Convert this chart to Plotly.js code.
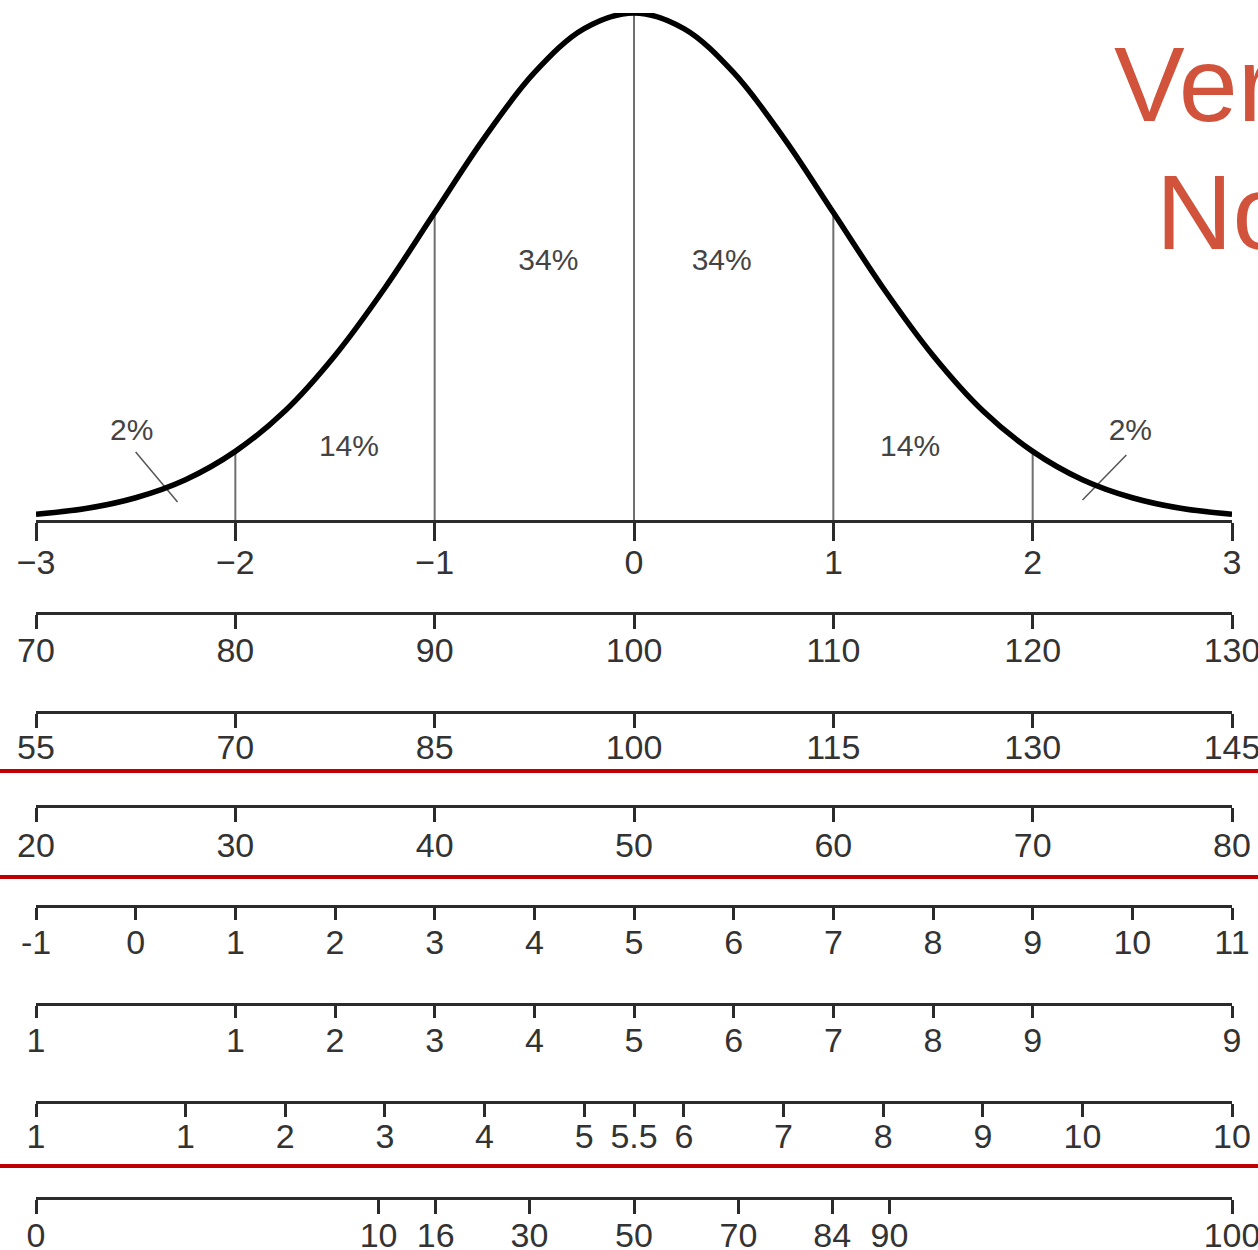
<!DOCTYPE html>
<html>
<head>
<meta charset="utf-8">
<script src="https://cdn.plot.ly/plotly-3.0.1.min.js"></script>
<style>html,body{margin:0;padding:0;background:#fff;}#chart{width:1258px;height:1250px;}</style>
</head>
<body>
<div id="chart"></div>
<script>
// ---- Data ----
const curveZ = [-3,-2.75,-2.5,-2.25,-2,-1.75,-1.5,-1.25,-1,-0.75,-0.5,-0.25,0,0.25,0.5,0.75,1,1.25,1.5,1.75,2,2.25,2.5,2.75,3];
const curveH = [0.0045,0.009,0.0175,0.0317,0.054,0.086,0.1295,0.1826,0.242,0.301,0.352,0.3867,0.399,0.3867,0.352,0.301,0.242,0.1826,0.1295,0.086,0.054,0.0317,0.0175,0.009,0.0045];
const dividerZ = [-2,-1,0,1,2];

const pctText = ["2%","14%","34%","34%","14%","2%"];
const pctZ = [-2.52,-1.43,-0.43,0.44,1.385,2.49];
const pctH = [0.0685,0.056,0.203,0.203,0.056,0.0685];
const leaderLeftZ = [-2.50,-2.29];
const leaderLeftH = [0.0535,0.0142];
const leaderRightZ = [2.47,2.25];
const leaderRightH = [0.0512,0.0157];

const zTicks = [-3,-2,-1,0,1,2,3];
const zLabels = ["\u22123","\u22122","\u22121","0","1","2","3"];
const iqTicks = [70,80,90,100,110,120,130];
const devTicks = [55,70,85,100,115,130,145];
const tTicks = [20,30,40,50,60,70,80];
const row5Ticks = [-1,0,1,2,3,4,5,6,7,8,9,10,11];
const stanineTicks = [-1,1,2,3,4,5,6,7,8,9,11];
const stanineLabels = ["1","1","2","3","4","5","6","7","8","9","9"];
const stenTicks = [-0.5,1,2,3,4,5,5.5,6,7,8,9,10,11.5];
const stenLabels = ["1","1","2","3","4","5","5.5","6","7","8","9","10","10"];
const pctRankTicks = [0,10,16,30,50,70,84,90,100];

// ---- helpers ----
function probit(p){ // inverse standard normal CDF (Acklam)
  if (p <= 0) return -3; if (p >= 1) return 3;
  const a=[-3.969683028665376e+01,2.209460984245205e+02,-2.759285104469687e+02,1.383577518672690e+02,-3.066479806614716e+01,2.506628277459239e+00];
  const b=[-5.447609879822406e+01,1.615858368580409e+02,-1.556989798598866e+02,6.680131188771972e+01,-1.328068155288572e+01];
  const c=[-7.784894002430293e-03,-3.223964580411365e-01,-2.400758277161838e+00,-2.549732539343734e+00,4.374664141464968e+00,2.938163982698783e+00];
  const d=[7.784695709041462e-03,3.224671290700398e-01,2.445134137142996e+00,3.754408661907416e+00];
  const pl=0.02425, ph=1-pl; let q,r;
  if (p<pl){q=Math.sqrt(-2*Math.log(p));return (((((c[0]*q+c[1])*q+c[2])*q+c[3])*q+c[4])*q+c[5])/((((d[0]*q+d[1])*q+d[2])*q+d[3])*q+1);}
  if (p<=ph){q=p-0.5;r=q*q;return (((((a[0]*r+a[1])*r+a[2])*r+a[3])*r+a[4])*r+a[5])*q/(((((b[0]*r+b[1])*r+b[2])*r+b[3])*r+b[4])*r+1);}
  q=Math.sqrt(-2*Math.log(1-p));return -(((((c[0]*q+c[1])*q+c[2])*q+c[3])*q+c[4])*q+c[5])/((((d[0]*q+d[1])*q+d[2])*q+d[3])*q+1);
}

const W = 1258, H = 1250;
const xDom = [36/W, 1232/W];
const py = px => 1 - px/H;
const FONT = "Liberation Sans, Arial, Helvetica, sans-serif";
const tickFont = {family: FONT, size: 34, color: "#333333"};

// divider line segments from the curve table
const divX = [], divY = [];
dividerZ.forEach(z => { const i = curveZ.indexOf(z); divX.push(z, z, null); divY.push(0, curveH[i], null); });

const traces = [
  {x: divX, y: divY, mode: "lines", line: {color: "#6f6f6f", width: 2}, hoverinfo: "skip", showlegend: false},
  {x: leaderLeftZ, y: leaderLeftH, mode: "lines", line: {color: "#555", width: 1.5}, hoverinfo: "skip", showlegend: false},
  {x: leaderRightZ, y: leaderRightH, mode: "lines", line: {color: "#555", width: 1.5}, hoverinfo: "skip", showlegend: false},
  {x: curveZ, y: curveH, mode: "lines", line: {color: "#000", width: 5.5, shape: "spline", smoothing: 1}, hoverinfo: "skip", showlegend: false},
  {x: pctZ, y: pctH, mode: "text", text: pctText, textfont: {family: FONT, size: 30, color: "#444"}, textposition: "middle center", hoverinfo: "skip", showlegend: false}
];

const rows = [
  {ticks: iqTicks, labels: iqTicks.map(String), range: [70,130], px: 613, len: 14, off: -8},
  {ticks: devTicks, labels: devTicks.map(String), range: [55,145], px: 712, len: 14, off: -10},
  {ticks: tTicks, labels: tTicks.map(String), range: [20,80], px: 806, len: 14, off: -6},
  {ticks: row5Ticks, labels: row5Ticks.map(String), range: [-1,11], px: 906, len: 12, off: -7},
  {ticks: stanineTicks, labels: stanineLabels, range: [-1,11], px: 1004, len: 12, off: -7},
  {ticks: stenTicks, labels: stenLabels, range: [-0.5,11.5], px: 1102, len: 13, off: -10},
  {ticks: pctRankTicks.map(p => probit(p/100)), labels: pctRankTicks.map(String), range: [-3,3], px: 1198, len: 14, off: -8}
];

const layout = {
  width: W, height: H,
  margin: {l: 0, r: 0, t: 0, b: 0, pad: 0},
  paper_bgcolor: "#fff", plot_bgcolor: "rgba(0,0,0,0)",
  showlegend: false,
  xaxis: {domain: xDom, range: [-3,3], autorange: false, showgrid: false, zeroline: false,
          showline: true, linecolor: "#2b2b2b", linewidth: 3,
          ticks: "outside", ticklen: 18, tickwidth: 3, tickcolor: "#2b2b2b",
          tickvals: zTicks, ticktext: zLabels, tickfont: tickFont, ticklabelstandoff: -8,
          ticklabeloverflow: "allow", fixedrange: true},
  yaxis: {domain: [py(520), py(13)], range: [0, 0.399], autorange: false, visible: false, fixedrange: true},
  shapes: [771, 877, 1166].map(p => ({type: "line", xref: "paper", yref: "paper", x0: 0, x1: 1, y0: py(p), y1: py(p), line: {color: "#c00000", width: 4}})),
  annotations: [
    {text: "Ver", xref: "paper", yref: "paper", x: 1112/W, y: py(84), xanchor: "left", yanchor: "middle", showarrow: false, font: {family: FONT, size: 106, color: "#d1533c"}},
    {text: "No", xref: "paper", yref: "paper", x: 1154/W, y: py(212), xanchor: "left", yanchor: "middle", showarrow: false, font: {family: FONT, size: 106, color: "#d1533c"}}
  ]
};

rows.forEach((r, k) => {
  const n = k + 2;
  layout["xaxis" + n] = {
    overlaying: "x", anchor: "free", position: py(r.px), side: "bottom",
    range: r.range, autorange: false, showgrid: false, zeroline: false,
    showline: true, linecolor: "#2b2b2b", linewidth: 3,
    ticks: "outside", ticklen: r.len, tickwidth: 3, tickcolor: "#2b2b2b",
    tickvals: r.ticks, ticktext: r.labels, tickfont: tickFont, ticklabelstandoff: r.off,
    ticklabeloverflow: "allow", fixedrange: true
  };
  traces.push({x: r.range, y: [0, 0], xaxis: "x" + n, yaxis: "y", mode: "markers", marker: {opacity: 0}, hoverinfo: "skip", showlegend: false});
});

Plotly.newPlot("chart", traces, layout, {staticPlot: true, displayModeBar: false});
</script>
</body>
</html>
